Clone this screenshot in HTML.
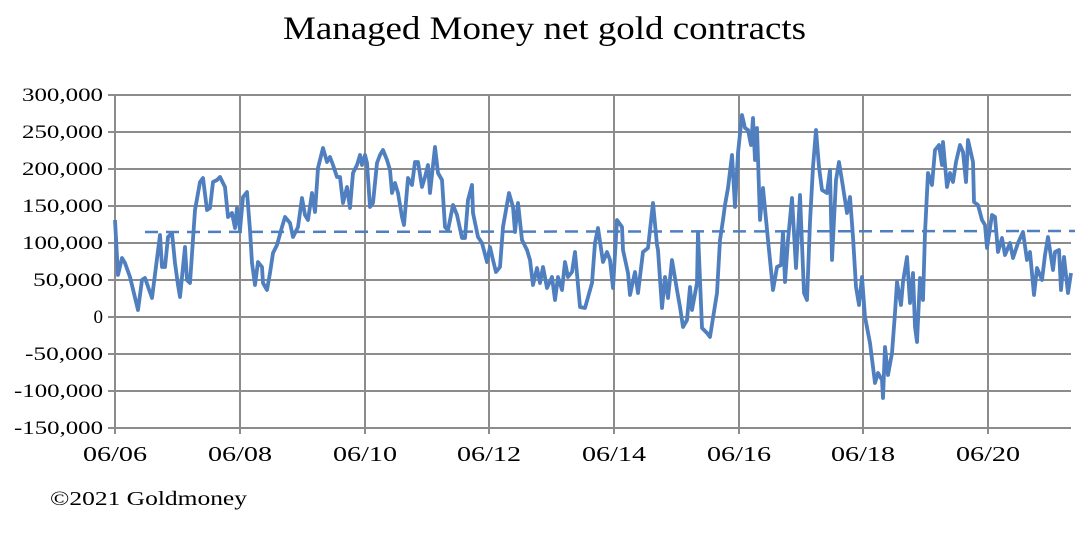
<!DOCTYPE html>
<html><head><meta charset="utf-8"><style>
html,body{margin:0;padding:0;background:#fff;}
svg{display:block;font-family:"Liberation Serif",serif;}
</style></head><body>
<svg width="1092" height="536" viewBox="0 0 1092 536">
<text x="283" y="39" font-size="33" textLength="523" lengthAdjust="spacingAndGlyphs" fill="#000">Managed Money net gold contracts</text>
<g stroke="#8c8c8c" stroke-width="2">
<line x1="108" y1="95" x2="1071" y2="95"/><line x1="108" y1="132" x2="1071" y2="132"/><line x1="108" y1="169" x2="1071" y2="169"/><line x1="108" y1="206" x2="1071" y2="206"/><line x1="108" y1="243" x2="1071" y2="243"/><line x1="108" y1="280" x2="1071" y2="280"/><line x1="108" y1="317" x2="1071" y2="317"/><line x1="108" y1="354" x2="1071" y2="354"/><line x1="108" y1="391" x2="1071" y2="391"/><line x1="108" y1="428" x2="1071" y2="428"/>
<line x1="115" y1="95" x2="115" y2="434"/><line x1="240" y1="95" x2="240" y2="434"/><line x1="365" y1="95" x2="365" y2="434"/><line x1="489" y1="95" x2="489" y2="434"/><line x1="614" y1="95" x2="614" y2="434"/><line x1="739" y1="95" x2="739" y2="434"/><line x1="863" y1="95" x2="863" y2="434"/><line x1="988" y1="95" x2="988" y2="434"/>
</g>
<g font-size="19" text-anchor="end" fill="#000">
<text x="103" y="101" textLength="81" lengthAdjust="spacingAndGlyphs">300,000</text><text x="103" y="138" textLength="81" lengthAdjust="spacingAndGlyphs">250,000</text><text x="103" y="175" textLength="81" lengthAdjust="spacingAndGlyphs">200,000</text><text x="103" y="212" textLength="81" lengthAdjust="spacingAndGlyphs">150,000</text><text x="103" y="249" textLength="81" lengthAdjust="spacingAndGlyphs">100,000</text><text x="103" y="286" textLength="70" lengthAdjust="spacingAndGlyphs">50,000</text><text x="103" y="323">0</text><text x="103" y="360" textLength="78" lengthAdjust="spacingAndGlyphs">-50,000</text><text x="103" y="397" textLength="89" lengthAdjust="spacingAndGlyphs">-100,000</text><text x="103" y="434" textLength="89" lengthAdjust="spacingAndGlyphs">-150,000</text>
</g>
<g font-size="21" text-anchor="middle" fill="#000">
<text x="115" y="461" textLength="64" lengthAdjust="spacingAndGlyphs">06/06</text><text x="240" y="461" textLength="64" lengthAdjust="spacingAndGlyphs">06/08</text><text x="365" y="461" textLength="64" lengthAdjust="spacingAndGlyphs">06/10</text><text x="489" y="461" textLength="64" lengthAdjust="spacingAndGlyphs">06/12</text><text x="614" y="461" textLength="64" lengthAdjust="spacingAndGlyphs">06/14</text><text x="739" y="461" textLength="64" lengthAdjust="spacingAndGlyphs">06/16</text><text x="863" y="461" textLength="64" lengthAdjust="spacingAndGlyphs">06/18</text><text x="988" y="461" textLength="64" lengthAdjust="spacingAndGlyphs">06/20</text>
</g>
<text x="50" y="505" font-size="20" textLength="197" lengthAdjust="spacingAndGlyphs" fill="#000">©2021 Goldmoney</text>
<line x1="145" y1="232" x2="1075" y2="231" stroke="#4f7fbf" stroke-width="2.5" stroke-dasharray="13,8"/>
<polyline fill="none" stroke="#4f7fbf" stroke-width="3.8" stroke-linejoin="round" points="115,220 118,275 122,258 125,263 130,277 138,310 142,280 145,278 152,298 160,235 162,267 165,267 168,237 172,233 175,263 178,285 180,297 185,247 187,280 190,283 195,210 200,182 203,178 207,210 210,208 213,182 217,180 220,177 225,187 228,217 232,213 235,228 237,208 240,230 243,197 247,192 250,230 252,263 255,285 258,262 262,267 263,283 267,290 270,273 273,253 277,245 282,227 285,217 290,223 293,237 298,227 302,198 305,215 308,220 312,193 315,212 318,168 323,148 327,162 330,157 333,165 337,177 340,177 343,203 347,187 350,208 353,173 357,165 360,155 362,165 365,155 367,163 370,207 373,203 377,163 380,155 383,150 387,160 390,170 392,193 395,183 398,193 402,217 404,225 408,178 412,185 415,162 418,162 422,187 425,177 428,165 430,193 435,147 438,173 442,180 445,227 448,230 453,205 457,215 462,238 465,238 468,200 472,185 473,213 478,237 482,243 487,262 490,247 493,260 496,272 500,267 503,227 509,193 513,207 515,232 518,203 522,240 527,250 530,260 533,285 537,268 540,283 543,267 547,288 552,277 555,300 558,277 562,290 565,262 568,277 572,272 575,252 580,307 585,308 592,283 595,243 598,228 603,262 607,252 610,260 613,288 617,220 622,227 623,250 628,273 630,295 635,272 638,293 643,252 648,248 653,203 657,245 658,250 662,308 665,277 668,298 672,260 677,290 680,307 683,327 687,320 690,287 692,310 697,283 698,232 702,328 707,333 710,337 713,318 717,293 720,240 723,220 725,205 728,188 732,155 735,207 738,153 742,115 745,128 748,130 751,145 753,118 755,160 757,128 760,220 763,188 768,240 773,290 777,267 781,265 783,232 785,282 788,240 792,198 796,268 800,195 804,293 807,300 810,222 813,167 816,130 819,167 822,190 827,193 830,170 832,260 836,180 839,162 843,187 847,213 850,197 853,237 856,287 859,305 862,277 865,317 870,343 875,383 878,373 882,380 883,398 885,347 888,375 892,353 895,313 897,282 901,305 903,282 907,257 910,303 913,273 915,327 917,342 920,278 923,300 925,233 928,173 932,185 935,150 939,145 942,165 943,142 947,187 950,173 953,182 956,162 960,145 963,152 966,182 968,140 973,162 974,202 978,205 982,220 985,225 987,248 992,215 995,217 998,252 1002,238 1005,255 1010,243 1013,258 1018,243 1023,232 1027,260 1030,252 1034,295 1037,268 1042,280 1045,255 1048,237 1053,270 1055,252 1059,250 1061,290 1064,257 1068,293 1071,273"/>
</svg>
</body></html>
